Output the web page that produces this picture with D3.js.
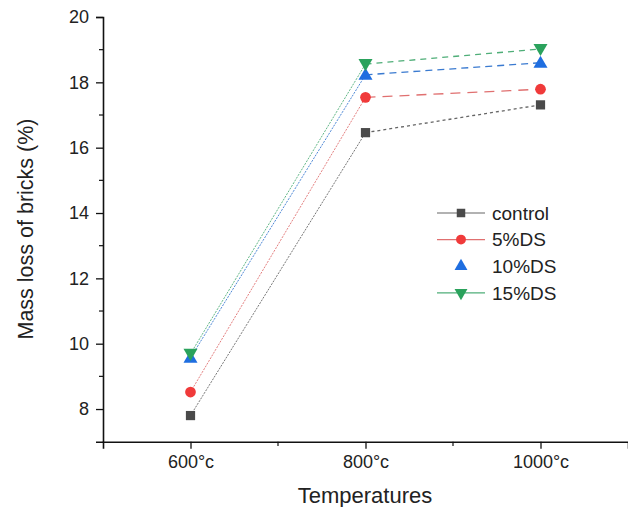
<!DOCTYPE html>
<html><head><meta charset="utf-8">
<script src="https://cdn.jsdelivr.net/npm/d3@7/dist/d3.min.js"></script>
<style>body{margin:0;background:#fff;font-family:Arial,"Liberation Sans",sans-serif}</style>
</head><body><svg id="c" width="628" height="507"></svg>
<script>
const categories = ["600°c", "800°c", "1000°c"];
const temps = [600, 800, 1000];
const seriesNames = ["control", "5%DS", "10%DS", "15%DS"];
const control = [7.8, 16.46, 17.31];
const ds5 = [8.52, 17.54, 17.79];
const ds10 = [9.57, 18.23, 18.6];
const ds15 = [9.69, 18.56, 19.02];
const yTicks = [8, 10, 12, 14, 16, 18, 20];
const yMinorTicks = [9, 11, 13, 15, 17, 19];
const xMinorTicks = [700, 900];

const series = [
  {name: seriesNames[0], values: control, marker: "#4a4a4a", line: "#666", dash: "3,3", sym: d3.symbolSquare, size: 85, rot: 0, legendLine: true},
  {name: seriesNames[1], values: ds5, marker: "#f03a3a", line: "#e07070", dash: "10,7", sym: d3.symbolCircle, size: 90, rot: 0, legendLine: true},
  {name: seriesNames[2], values: ds10, marker: "#1f6ee0", line: "#3a7ad0", dash: "7,5", sym: d3.symbolTriangle, size: 85, rot: 0, legendLine: false},
  {name: seriesNames[3], values: ds15, marker: "#2aa25c", line: "#4fae78", dash: "6,5", sym: d3.symbolTriangle, size: 85, rot: 180, legendLine: true}
];

const svg = d3.select("#c");
const FONT = "Arial, 'Liberation Sans', sans-serif";
const x = d3.scaleLinear().domain([500, 1100]).range([103, 628]);
const y = d3.scaleLinear().domain([7, 20]).range([441.7, 17]);

// y axis
const yAxis = d3.axisLeft(y).tickValues(yTicks).tickSize(7).tickFormat(d3.format("d"));
const gy = svg.append("g").attr("transform", "translate(103,0)").call(yAxis).attr("font-family", FONT);
gy.selectAll(".tick text").attr("font-size", 18).attr("fill", "#222").attr("x", -14);
gy.select(".domain").attr("stroke", "#111").attr("stroke-width", 1.6);
gy.selectAll(".tick line").attr("stroke", "#111").attr("stroke-width", 1.3);
svg.append("g").selectAll("line").data(yMinorTicks).join("line")
  .attr("x1", 99).attr("x2", 103).attr("y1", d => y(d)).attr("y2", d => y(d))
  .attr("stroke", "#111").attr("stroke-width", 1.2);

// x axis
const xAxis = d3.axisBottom(x).tickValues(temps).tickSize(7).tickFormat((d, i) => categories[i]);
const gx = svg.append("g").attr("transform", "translate(0,441.7)").call(xAxis).attr("font-family", FONT);
gx.selectAll(".tick text").attr("font-size", 18).attr("fill", "#222").attr("y", 14).attr("dy", "0.71em");
gx.select(".domain").attr("stroke", "#111").attr("stroke-width", 1.6);
gx.selectAll(".tick line").attr("stroke", "#111").attr("stroke-width", 1.3);
svg.append("g").selectAll("line").data(xMinorTicks).join("line")
  .attr("x1", d => x(d)).attr("x2", d => x(d)).attr("y1", 441.7).attr("y2", 446)
  .attr("stroke", "#111").attr("stroke-width", 1.2);

// titles
svg.append("text").attr("x", 365).attr("y", 503).attr("text-anchor", "middle").attr("font-family", FONT)
  .attr("font-size", 22).attr("fill", "#222").text("Temperatures");
svg.append("text").attr("transform", "translate(33,229) rotate(-90)").attr("text-anchor", "middle").attr("font-family", FONT)
  .attr("font-size", 21.5).attr("fill", "#222").text("Mass loss of bricks (%)");

// lines
series.forEach(s => {
  const pts = temps.map((t, i) => [x(t), y(s.values[i])]);
  svg.append("line").attr("x1", pts[0][0]).attr("y1", pts[0][1]).attr("x2", pts[1][0]).attr("y2", pts[1][1])
    .attr("stroke", s.line).attr("stroke-width", 0.9).attr("stroke-dasharray", "2,1.2");
  svg.append("line").attr("x1", pts[1][0]).attr("y1", pts[1][1]).attr("x2", pts[2][0]).attr("y2", pts[2][1])
    .attr("stroke", s.line).attr("stroke-width", 1.3).attr("stroke-dasharray", s.dash);
});
// markers
series.forEach(s => {
  svg.append("g").selectAll("path").data(temps).join("path")
    .attr("d", d3.symbol().type(s.sym).size(s.size))
    .attr("transform", (t, i) => `translate(${x(t)},${y(s.values[i]) + (s.sym === d3.symbolTriangle ? (s.rot ? -1 : 1) : 0)}) rotate(${s.rot})`)
    .attr("fill", s.marker);
});

// legend
const lg = svg.append("g").attr("font-family", FONT);
series.forEach((s, i) => {
  const yy = 213 + i * 26.6;
  if (s.legendLine) lg.append("line").attr("x1", 437).attr("x2", 485).attr("y1", yy).attr("y2", yy)
    .attr("stroke", s.line).attr("stroke-width", 1.2);
  lg.append("path").attr("d", d3.symbol().type(s.sym).size(s.size * 0.85))
    .attr("transform", `translate(461,${yy}) rotate(${s.rot})`).attr("fill", s.marker);
  lg.append("text").attr("x", 492).attr("y", yy + 6.8).attr("font-size", 19).attr("fill", "#222").text(s.name);
});
</script></body></html>
